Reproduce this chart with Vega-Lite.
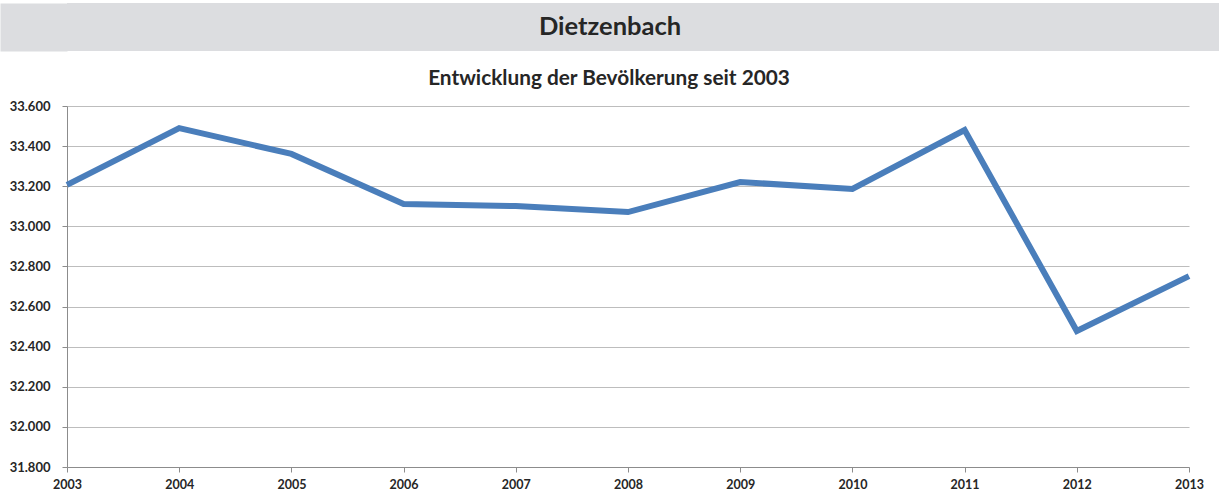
{
  "$schema": "https://vega.github.io/schema/vega-lite/v6.json",
  "padding": {"left": -24, "top": 3, "right": 1, "bottom": 0},
  "autosize": {"type": "pad"},
  "spacing": 17,
  "background": "white",
  "config": {
    "locale": {"number": {"decimal": ",", "thousands": ".", "grouping": [3], "currency": ["", " €"]}},
    "font": "Lato",
    "view": {"stroke": null}
  },
  "vconcat": [
    {
      "width": 1152,
      "height": 48,
      "view": {"fill": "#dcdde0", "stroke": null},
      "data": {"values": [{"label": "Dietzenbach"}]},
      "mark": {"type": "text", "fontSize": 25.5, "fontWeight": "bold", "color": "#262626", "font": "Lato", "baseline": "middle", "dx": -33},
      "encoding": {
        "text": {"field": "label"},
        "y": {"field": "label", "type": "nominal", "axis": {"title": null, "labels": false, "domain": false, "ticks": true, "tickSize": 67, "tickWidth": 48, "tickColor": "#dcdde0", "tickCap": "butt"}}
      }
    },
    {
      "width": 1122,
      "height": 361,
      "title": {"text": "Entwicklung der Bevölkerung seit 2003", "fontSize": 20.8, "fontWeight": "bold", "color": "#262626", "font": "Lato", "anchor": "middle", "dx": -19, "offset": 10},
      "data": {"values": [
        {"Jahr": 2003, "Einwohner": 33207},
        {"Jahr": 2004, "Einwohner": 33490},
        {"Jahr": 2005, "Einwohner": 33361},
        {"Jahr": 2006, "Einwohner": 33111},
        {"Jahr": 2007, "Einwohner": 33101},
        {"Jahr": 2008, "Einwohner": 33071},
        {"Jahr": 2009, "Einwohner": 33221},
        {"Jahr": 2010, "Einwohner": 33186},
        {"Jahr": 2011, "Einwohner": 33480},
        {"Jahr": 2012, "Einwohner": 32478},
        {"Jahr": 2013, "Einwohner": 32752}
      ]},
      "mark": {"type": "line", "strokeWidth": 6, "color": "#4a7ebb", "strokeJoin": "miter"},
      "encoding": {
        "x": {
          "field": "Jahr", "type": "quantitative",
          "scale": {"domain": [2003, 2013], "nice": false, "zero": false},
          "axis": {"title": null, "values": [2003, 2004, 2005, 2006, 2007, 2008, 2009, 2010, 2011, 2012, 2013], "format": "d", "grid": false, "labelFontSize": 12.5, "labelFontWeight": "bold", "labelColor": "#262626", "labelFont": "Lato", "domainColor": "#8c8c8c", "tickColor": "#8c8c8c", "tickSize": 5, "labelPadding": 6, "labelFlush": false}
        },
        "y": {
          "field": "Einwohner", "type": "quantitative",
          "scale": {"domain": [31800, 33600], "nice": false, "zero": false},
          "axis": {"title": null, "values": [31800, 32000, 32200, 32400, 32600, 32800, 33000, 33200, 33400, 33600], "format": ",d", "grid": true, "gridColor": "#bdbdbd", "labelFontSize": 13, "labelFontWeight": "bold", "labelColor": "#262626", "labelFont": "Lato", "domainColor": "#8c8c8c", "tickColor": "#8c8c8c", "tickSize": 5, "labelPadding": 12}
        }
      }
    }
  ]
}
